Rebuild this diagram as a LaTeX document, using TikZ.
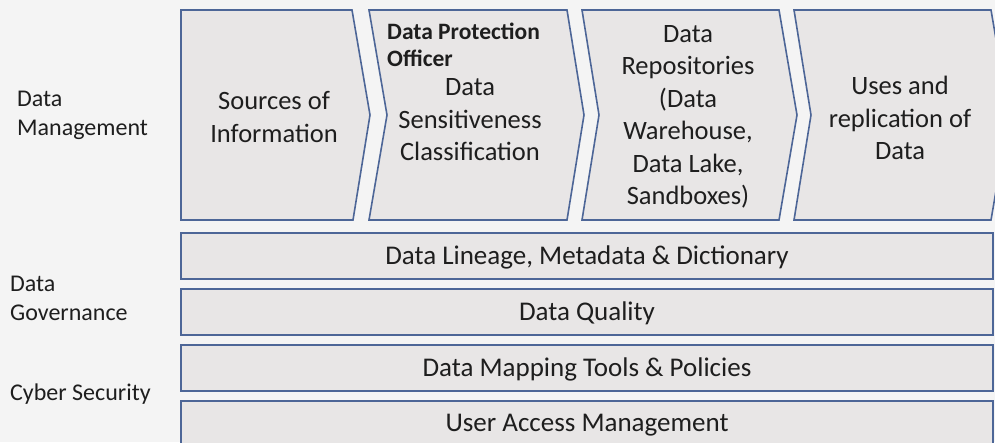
\documentclass[tikz,border=0pt]{standalone}
\usepackage{fontspec}
\setmainfont{Carlito}
\begin{document}
\begin{tikzpicture}[x=1pt,y=-1pt,
  panel/.style={draw=frameblue,fill=panelgray,line width=1.6pt,line join=miter},
  stagetext/.style={align=center,text=inkgray,font={\fontsize{26.5}{32.5}\selectfont},inner sep=0pt},
  bandtext/.style={text=inkgray,font={\fontsize{27}{30}\selectfont},inner sep=0pt},
  sidetext/.style={anchor=west,align=left,text=inkgray,font={\fontsize{24}{29}\selectfont},inner sep=0pt},
  roletext/.style={anchor=north west,align=left,text=inkgray,font={\bfseries\fontsize{23.5}{27}\selectfont},inner sep=0pt}]
\definecolor{frameblue}{HTML}{4D6697}
\definecolor{panelgray}{HTML}{E8E6E6}
\definecolor{pagegray}{HTML}{F4F4F4}
\definecolor{inkgray}{HTML}{1E1E1E}
\useasboundingbox (0,0) rectangle (995,442);
\clip (0,0) rectangle (995,442);
\fill[pagegray] (0,0) rectangle (995,442);

% process chevrons
\draw[panel] (181,10) -- (352,10) -- (370,115) -- (353,220) -- (181,220) -- cycle;
\draw[panel] (369,10) -- (567,10) -- (584,115) -- (567,220) -- (369,220) -- (387,115) -- cycle;
\draw[panel] (582,10) -- (779,10) -- (797,115) -- (779,220) -- (582,220) -- (599,115) -- cycle;
\draw[panel] (794,10) -- (991,10) -- (1009,115) -- (991,220) -- (794,220) -- (811,115) -- cycle;

\node[stagetext] (sources) at (274,117) {Sources of\\Information};
\node[stagetext] (sensitive) at (470,120) {Data\\Sensitiveness\\Classification};
\node[stagetext] (repos) at (688,117) {Data\\Repositories\\(Data\\Warehouse,\\Data Lake,\\Sandboxes)};
\node[stagetext] (uses) at (900,118) {Uses and\\replication of\\Data};
\node[roletext] (dpo) at (387,23) {Data Protection\\Officer};

% horizontal layers
\draw[panel] (181,233) rectangle (993,279);
\draw[panel] (181,289) rectangle (993,335);
\draw[panel] (181,345) rectangle (993,391);
\draw[panel] (181,401) rectangle (993,448);

\node[bandtext] (lineage) at (587,257) {Data Lineage, Metadata \& Dictionary};
\node[bandtext] (quality) at (587,313) {Data Quality};
\node[bandtext] (mapping) at (587,369) {Data Mapping Tools \& Policies};
\node[bandtext] (access) at (587,425) {User Access Management};

% row captions
\node[sidetext] (mgmt) at (17,115) {Data\\Management};
\node[sidetext] (gov) at (10,298) {Data\\Governance};
\node[sidetext] (cyber) at (10,394) {Cyber Security};
\end{tikzpicture}
\end{document}
